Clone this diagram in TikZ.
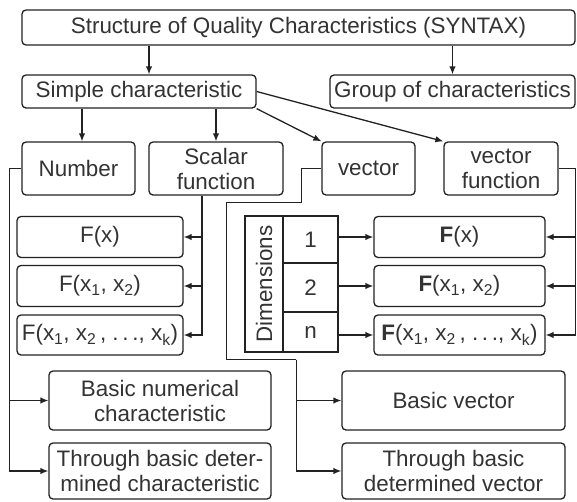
\documentclass[tikz,border=0pt]{standalone}
\usepackage{fontspec}
\setmainfont{Liberation Sans}
\usetikzlibrary{arrows.meta,positioning}
\definecolor{ink}{HTML}{222222}
\definecolor{textgray}{HTML}{333333}
\tikzset{
  block/.style={
    rectangle,
    rounded corners=4pt,
    draw=ink,
    line width=1.3pt,
    align=center,
    inner sep=0pt,
    fill=white
  },
  cell/.style={
    rectangle,
    draw=ink,
    line width=1.3pt,
    align=center,
    inner sep=0pt
  },
  flow/.style={
    -{Latex[length=8pt,width=6.5pt]},
    draw=ink,
    line width=1.3pt
  },
  link/.style={
    draw=ink,
    line width=1.3pt
  }
}

\begin{document}
\begin{tikzpicture}[
  x=1pt, y=-1pt,
  font=\fontsize{22.4}{25}\selectfont,
  every node/.style={text=textgray}
]
\useasboundingbox (0,0) rectangle (577,501);

% Top level: structure and its two kinds.
\node[block, minimum width=553pt, minimum height=35pt] (syntax) at (298.5,27.5)
  {Structure of Quality Characteristics (SYNTAX)};
\node[block, minimum width=234pt, minimum height=33pt] (simple) at (139,91.5)
  {Simple characteristic};
\node[block, minimum width=245pt, minimum height=33pt] (group) at (452.5,91.5)
  {Group of characteristics};

% Row of simple characteristic types.
\node[block, minimum width=113pt, minimum height=53pt] (number) at (78.5,168.5) {Number};
\node[block, minimum width=134pt, minimum height=53pt] (scalar) at (216,168.5) {Scalar\\function};
\node[block, minimum width=93pt, minimum height=53pt] (vector) at (368.5,168.5) {vector};
\node[block, minimum width=114pt, minimum height=53pt] (vecfun) at (501,168.5) {vector\\function};

% Scalar functions.
\node[block, minimum width=166pt, minimum height=41pt] (f1) at (100,237) {F(x)};
\node[block, minimum width=166pt, minimum height=41pt] (f2) at (100,286)
  {F(x\textsubscript{1}, x\textsubscript{2})};
\node[block, minimum width=166pt, minimum height=40pt] (f3) at (100,335)
  {F(x\textsubscript{1}, x\textsubscript{2}\,, .\,.\,., x\textsubscript{k})};

% Vector functions.
\node[block, minimum width=171pt, minimum height=41pt] (g1) at (459.5,237) {\textbf{F}(x)};
\node[block, minimum width=171pt, minimum height=41pt] (g2) at (459.5,286)
  {\textbf{F}(x\textsubscript{1}, x\textsubscript{2})};
\node[block, minimum width=171pt, minimum height=40pt] (g3) at (459.5,335)
  {\textbf{F}(x\textsubscript{1}, x\textsubscript{2}\,, .\,.\,., x\textsubscript{k})};

% Dimensions table.
\node[cell, rotate=90, minimum width=136pt, minimum height=38pt] (dims) at (264,284) {Dimensions};
\node[cell, minimum width=55pt, minimum height=47pt] (d1) at (310.5,239.5) {1};
\node[cell, minimum width=55pt, minimum height=49pt] (d2) at (310.5,287.5) {2};
\node[cell, minimum width=55pt, minimum height=40pt] (dn) at (310.5,332) {n};

% Bottom rows.
\node[block, minimum width=222pt, minimum height=59pt] (basicnum) at (160,400.5)
  {Basic numerical\\characteristic};
\node[block, minimum width=222pt, minimum height=56pt] (detnum) at (160,471)
  {Through basic deter-\\mined characteristic};
\node[block, minimum width=223pt, minimum height=59pt] (basicvec) at (453.5,400.5)
  {Basic vector};
\node[block, minimum width=223pt, minimum height=56pt] (detvec) at (453.5,471)
  {Through basic\\determined vector};

% Arrows from the top.
\path ([xshift=10pt]simple.north) coordinate (s1);
\draw[flow] (s1 |- syntax.south) -- (s1);
\draw[flow] (group.north |- syntax.south) -- (group.north);

\path ([xshift=3.5pt]number.north) coordinate (n1);
\draw[flow] (n1 |- simple.south) -- (n1);
\draw[flow] (scalar.north |- simple.south) -- (scalar.north);
\draw[flow] (simple.south east) -- (vector.north west);
\draw[flow] (simple.east) -- (vecfun.north west);

% Number branches.
\draw[link] (number.west) -- ++(-12,0) coordinate (nknee);
\draw[flow] (nknee) |- (basicnum.west);
\draw[flow] (nknee) |- (detnum.west);

% Scalar function branches.
\path ([xshift=-14pt]scalar.south) coordinate (sknee);
\draw[flow] (sknee) |- (f1.east);
\draw[flow] (sknee) |- (f2.east);
\draw[flow] (sknee) |- (f3.east);

% Vector branches.
\draw[link] (vector.west) -- ++(-20,0) -- ++(0,34) -- ++(-75,0) -- ++(0,157)
  -- ++(70,0) coordinate (vknee);
\draw[flow] (vknee) |- (basicvec.west);
\draw[flow] (vknee) |- (detvec.west);

% Vector function branches.
\draw[link] (vecfun.east) -- ++(17,0) coordinate (vfknee);
\draw[flow] (vfknee) |- (g1.east);
\draw[flow] (vfknee) |- (g2.east);
\draw[flow] (vfknee) |- (g3.east);

% Dimensions to vector functions.
\draw[flow] (g1.west -| d1.east) -- (g1.west);
\draw[flow] (g2.west -| d2.east) -- (g2.west);
\draw[flow] (g3.west -| dn.east) -- (g3.west);

\end{tikzpicture}
\end{document}
